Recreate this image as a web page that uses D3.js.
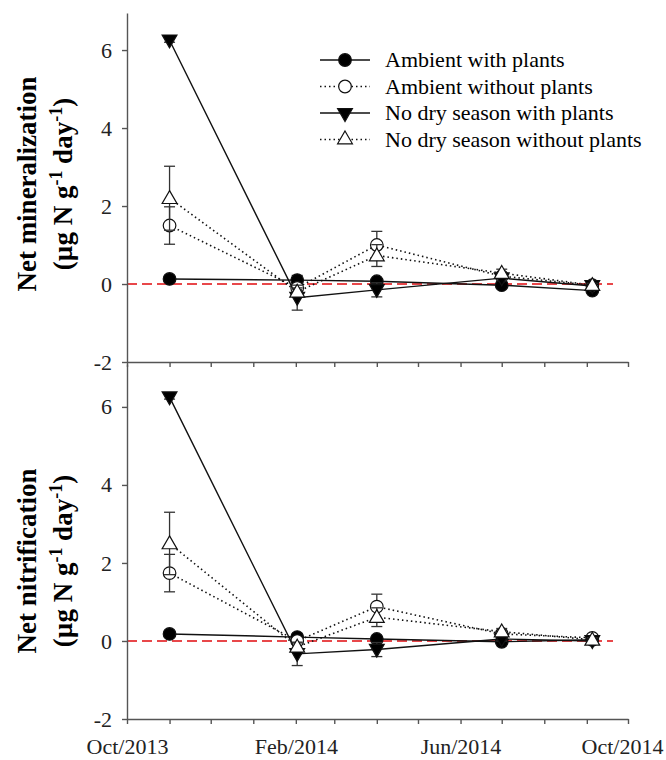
<!DOCTYPE html>
<html>
<head>
<meta charset="utf-8">
<script src="https://cdn.jsdelivr.net/npm/d3@7"></script>
<style>
  body { margin: 0; background: #fff; }
  text { font-family: "Liberation Serif", "Times New Roman", serif; }
</style>
</head>
<body>
<div id="chart"></div>
<script>
// Sampling dates
const dates = ["2013-11-01", "2014-02-02", "2014-04-01", "2014-07-01", "2014-09-05"];

const seriesNames = [
    "Ambient with plants",
    "Ambient without plants",
    "No dry season with plants",
    "No dry season without plants"
];

// Net mineralization (means and SE)
const minAmbPlants = [0.13, 0.10, 0.07, -0.03, -0.17];
const minAmbNoPlants = [1.50, -0.10, 1.00, 0.20, -0.03];
const minNdsPlants = [6.25, -0.35, -0.15, 0.15, -0.05];
const minNdsNoPlants = [2.20, -0.20, 0.73, 0.28, -0.03];
const minAmbPlantsSE = [0.05, 0.12, 0.05, 0.05, 0.05];
const minAmbNoPlantsSE = [0.48, 0.10, 0.35, 0.08, 0.05];
const minNdsPlantsSE = [0.05, 0.32, 0.18, 0.05, 0.05];
const minNdsNoPlantsSE = [0.82, 0.10, 0.28, 0.10, 0.05];

// Net nitrification (means and SE)
const nitAmbPlants = [0.18, 0.10, 0.05, -0.02, 0.03];
const nitAmbNoPlants = [1.74, 0.00, 0.88, 0.18, 0.08];
const nitNdsPlants = [6.25, -0.33, -0.22, 0.05, 0.00];
const nitNdsNoPlants = [2.50, -0.15, 0.61, 0.24, 0.03];
const nitAmbPlantsSE = [0.05, 0.08, 0.05, 0.05, 0.05];
const nitAmbNoPlantsSE = [0.48, 0.08, 0.32, 0.06, 0.05];
const nitNdsPlantsSE = [0.05, 0.30, 0.18, 0.05, 0.05];
const nitNdsNoPlantsSE = [0.80, 0.10, 0.24, 0.08, 0.05];

const yTicks = [-2, 0, 2, 4, 6];

const svg = d3.select("#chart")
    .append("svg")
    .attr("width", 666)
    .attr("height", 760);

const parse = d3.timeParse("%Y-%m-%d");
const x = d3.scaleTime()
    .domain([new Date(2013, 9, 1), new Date(2014, 9, 1)])
    .range([127, 628]);

// marker style per series
const styles = [
    { symbol: d3.symbolCircle, size: 125, fill: "#000", dash: null, rot: 0 },
    { symbol: d3.symbolCircle, size: 125, fill: "#fff", dash: "1.5,3", rot: 0 },
    { symbol: d3.symbolTriangle, size: 95, fill: "#000", dash: null, rot: 180 },
    { symbol: d3.symbolTriangle, size: 95, fill: "#fff", dash: "1.5,3", rot: 0 }
];

const panels = [
    {
        label: "Net mineralization",
        domain: [-2, 6.95], range: [362, 13], labelY: 184, showX: false,
        values: [minAmbPlants, minAmbNoPlants, minNdsPlants, minNdsNoPlants],
        se: [minAmbPlantsSE, minAmbNoPlantsSE, minNdsPlantsSE, minNdsNoPlantsSE]
    },
    {
        label: "Net nitrification",
        domain: [-2, 7.1], range: [719, 364], labelY: 561, showX: true,
        values: [nitAmbPlants, nitAmbNoPlants, nitNdsPlants, nitNdsNoPlants],
        se: [nitAmbPlantsSE, nitAmbNoPlantsSE, nitNdsPlantsSE, nitNdsNoPlantsSE]
    }
];

const labelMonths = [9, 1, 5];

panels.forEach(p => {
    const y = d3.scaleLinear().domain(p.domain).range(p.range);
    const g = svg.append("g");

    // zero reference line
    g.append("line")
        .attr("x1", x.range()[0])
        .attr("x2", 613)
        .attr("y1", y(0))
        .attr("y2", y(0))
        .attr("stroke", "#e8474a")
        .attr("stroke-width", 1.8)
        .attr("stroke-dasharray", "10,5");

    // y axis
    const yAxis = g.append("g")
        .attr("transform", `translate(${x.range()[0]},0)`)
        .call(d3.axisLeft(y).tickValues(yTicks).tickSize(5).tickSizeOuter(0).tickPadding(10)
            .tickFormat(d => String(d)));
    yAxis.selectAll("text").style("font-size", "22px").attr("fill", "#222");

    // x axis
    const xAxis = g.append("g")
        .attr("transform", `translate(0,${p.range[0]})`)
        .call(d3.axisBottom(x)
            .ticks(d3.timeMonth.every(1))
            .tickSize(5)
            .tickSizeOuter(0)
            .tickPadding(14)
            .tickFormat(d => p.showX && labelMonths.includes(d.getMonth()) ? d3.timeFormat("%b/%Y")(d) : ""));
    xAxis.selectAll("text").style("font-size", "22px").attr("fill", "#222");
    // last label sits a little left so it stays inside the page
    xAxis.selectAll(".tick text").filter(d => +d === +x.domain()[1]).attr("x", -6);

    [yAxis, xAxis].forEach(a => {
        a.selectAll("path, line").attr("stroke", "#555").attr("stroke-width", 1.4);
    });

    // axis title
    const title = g.append("text")
        .attr("transform", `translate(0,${p.labelY}) rotate(-90)`)
        .attr("text-anchor", "middle")
        .style("font-weight", "bold")
        .style("font-size", "27px");
    title.append("tspan").attr("x", 0).attr("y", 36).text(p.label);
    const t2 = title.append("tspan").attr("x", 0).attr("y", 72);
    t2.append("tspan").text("(µg N g");
    t2.append("tspan").attr("dy", -10).style("font-size", "18px").text("-1");
    t2.append("tspan").attr("dy", 10).text(" day");
    t2.append("tspan").attr("dy", -10).style("font-size", "18px").text("-1");
    t2.append("tspan").attr("dy", 10).text(")");

    const line = d3.line()
        .x(d => x(d.date))
        .y(d => y(d.v));

    p.values.forEach((vals, i) => {
        const st = styles[i];
        const data = vals.map((v, j) => ({ date: parse(dates[j]), v: v, se: p.se[i][j] }));
        const sg = g.append("g");

        sg.append("path")
            .datum(data)
            .attr("d", line)
            .attr("fill", "none")
            .attr("stroke", "#111")
            .attr("stroke-width", st.dash ? 1.6 : 1.4)
            .attr("stroke-dasharray", st.dash);

        // error bars
        const eb = sg.selectAll(".eb").data(data).enter().append("g");
        eb.append("line")
            .attr("x1", d => x(d.date)).attr("x2", d => x(d.date))
            .attr("y1", d => y(d.v - d.se)).attr("y2", d => y(d.v + d.se))
            .attr("stroke", "#333").attr("stroke-width", 1.3);
        [-1, 1].forEach(s => {
            eb.append("line")
                .attr("x1", d => x(d.date) - 5.5).attr("x2", d => x(d.date) + 5.5)
                .attr("y1", d => y(d.v + s * d.se)).attr("y2", d => y(d.v + s * d.se))
                .attr("stroke", "#333").attr("stroke-width", 1.3);
        });

        sg.selectAll(".pt").data(data).enter().append("path")
            .attr("d", d3.symbol().type(st.symbol).size(st.size))
            .attr("transform", d => `translate(${x(d.date)},${y(d.v) + (st.symbol === d3.symbolTriangle ? (st.rot ? -1 : 1) : 0)}) rotate(${st.rot})`)
            .attr("fill", st.fill)
            .attr("stroke", "#111")
            .attr("stroke-width", 1.2);
    });
});

// Legend
const legend = svg.append("g").attr("transform", "translate(320,60)");
seriesNames.forEach((name, i) => {
    const st = styles[i];
    const row = legend.append("g").attr("transform", `translate(0,${i * 26.5})`);
    row.append("line")
        .attr("x1", 0).attr("x2", 50)
        .attr("stroke", "#111")
        .attr("stroke-width", 1.4)
        .attr("stroke-dasharray", st.dash);
    row.append("path")
        .attr("d", d3.symbol().type(st.symbol).size(st.size))
        .attr("transform", `translate(25,0) rotate(${st.rot})`)
        .attr("fill", st.fill)
        .attr("stroke", "#111")
        .attr("stroke-width", 1.2);
    row.append("text")
        .attr("x", 65)
        .attr("y", 7)
        .style("font-size", "22px")
        .text(name);
});
</script>
</body>
</html>
